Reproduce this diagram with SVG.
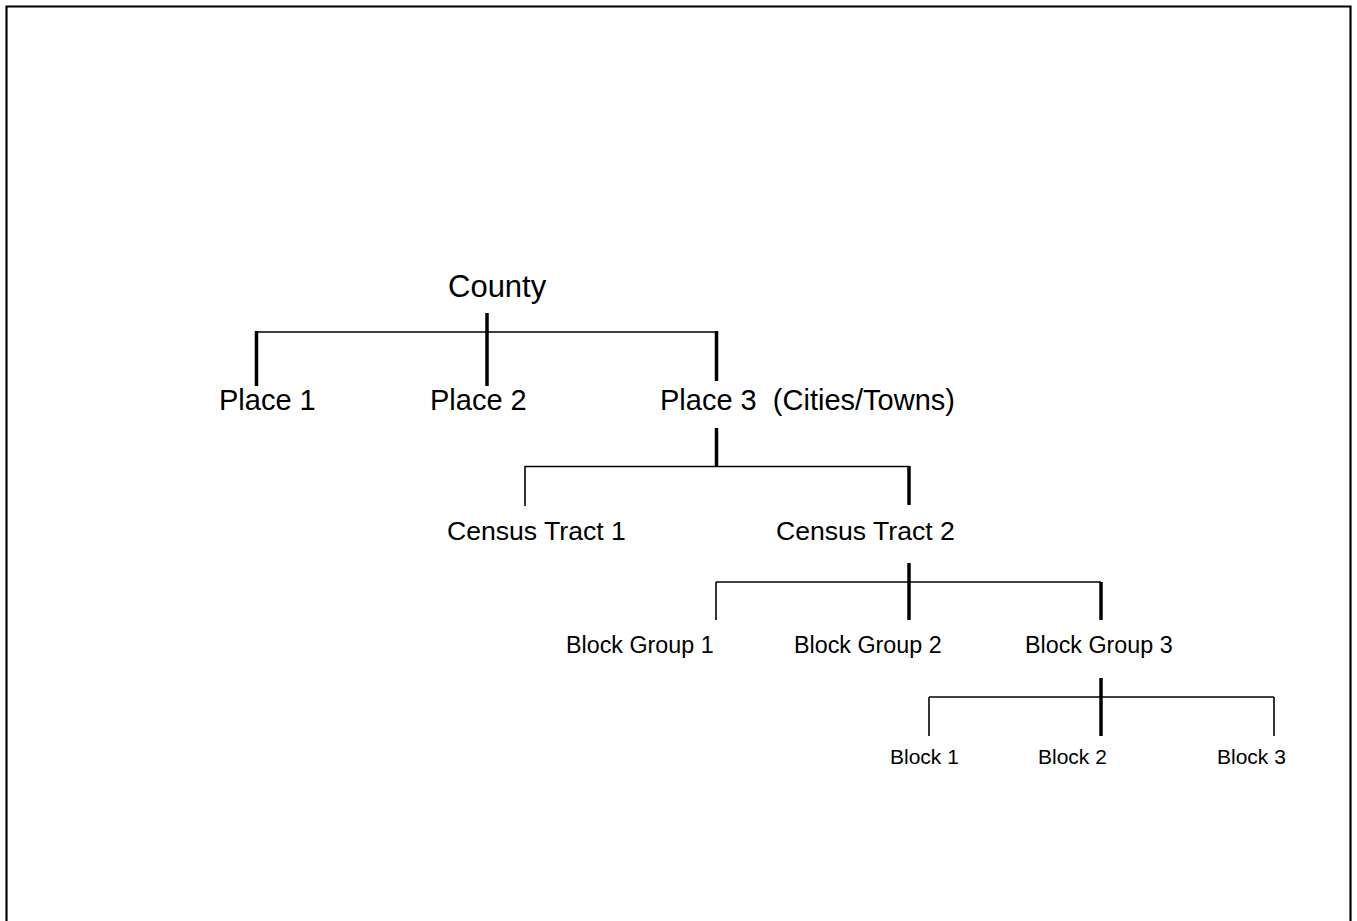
<svg xmlns="http://www.w3.org/2000/svg" width="1357" height="921" viewBox="0 0 1357 921">
<style>
text{font-family:"Liberation Sans",Arial,sans-serif;fill:#000}
.l0{font-size:31px}
.l1{font-size:29px}
.l2{font-size:26.6px}
.l3{font-size:23.3px}
.l4{font-size:21px}
.thin{stroke:#000;stroke-width:1.6;fill:none}
.thick{stroke:#000;stroke-width:3.5;fill:none}
.frame{stroke:#000;stroke-width:2.2;fill:none}
</style>
<rect width="1357" height="921" fill="#fff"/>
<path class="frame" d="M6.5 930 V6.5 H1350.5 V930"/>
<g id="connectors">
<path class="thin" d="M256.5 332 H716.5"/>
<path class="thick" d="M256.5 331 V386"/>
<path class="thick" d="M487 313 V386"/>
<path class="thick" d="M716.5 331 V381"/>
<path class="thick" d="M716.5 428 V466.5"/>
<path class="thin" d="M525 466.5 H909"/>
<path class="thin" d="M525 466 V506"/>
<path class="thick" d="M909 466 V505"/>
<path class="thick" d="M909 563 V620"/>
<path class="thin" d="M716 582 H1101"/>
<path class="thin" d="M716 582 V620"/>
<path class="thick" d="M1101 582 V620"/>
<path class="thick" d="M1101 678 V736"/>
<path class="thin" d="M929 697 H1274"/>
<path class="thin" d="M929 697 V736"/>
<path class="thin" d="M1274 697 V736"/>
</g>
<g id="county"><text class="l0" x="448" y="297">County</text></g>
<g id="place1"><text class="l1" x="219" y="410">Place 1</text></g>
<g id="place2"><text class="l1" x="430" y="410">Place 2</text></g>
<g id="place3"><text class="l1" x="660" y="410" xml:space="preserve">Place 3  (Cities/Towns)</text></g>
<g id="tract1"><text class="l2" x="447" y="540">Census Tract 1</text></g>
<g id="tract2"><text class="l2" x="776" y="540">Census Tract 2</text></g>
<g id="bg1"><text class="l3" x="566" y="653">Block Group 1</text></g>
<g id="bg2"><text class="l3" x="794" y="653">Block Group 2</text></g>
<g id="bg3"><text class="l3" x="1025" y="653">Block Group 3</text></g>
<g id="block1"><text class="l4" x="890" y="764">Block 1</text></g>
<g id="block2"><text class="l4" x="1038" y="764">Block 2</text></g>
<g id="block3"><text class="l4" x="1217" y="764">Block 3</text></g>
</svg>
